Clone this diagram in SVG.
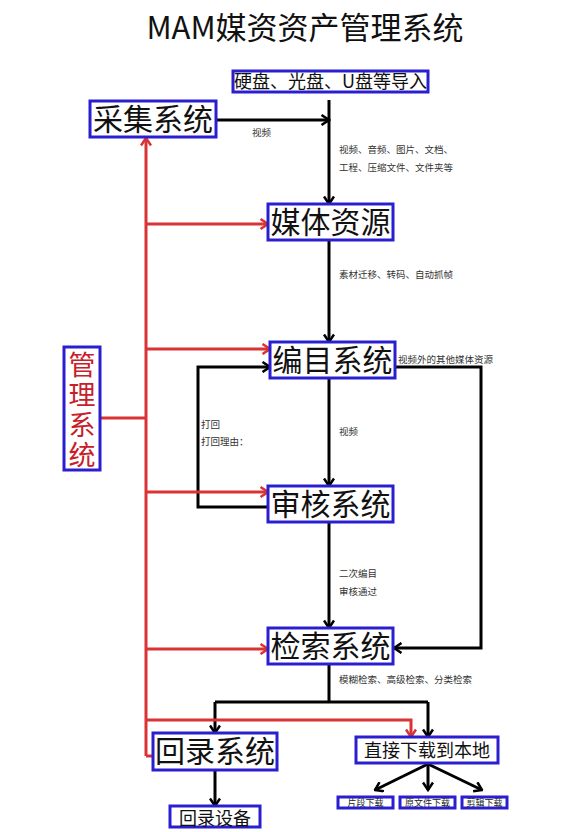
<svg xmlns="http://www.w3.org/2000/svg" width="567" height="832" viewBox="0 0 567 832">
<style>
.box{fill:#fff;stroke:#2a1fd0;stroke-width:3}
.big{font-family:"Noto Sans CJK SC","Liberation Sans",sans-serif;font-size:30px;fill:#111;text-anchor:middle}
.mid{font-family:"Noto Sans CJK SC","Liberation Sans",sans-serif;font-size:18px;fill:#111;text-anchor:middle}
.sm{font-family:"Noto Sans CJK SC","Liberation Sans",sans-serif;font-size:9.5px;fill:#333}
.tiny{font-family:"Noto Sans CJK SC","Liberation Sans",sans-serif;font-size:9px;fill:#222;text-anchor:middle}
.bl{fill:none;stroke:#000;stroke-width:3}
.rd{fill:none;stroke:#d93333;stroke-width:3}
</style>
<defs>
<marker id="ab" viewBox="0 0 12 12" refX="10.5" refY="6" markerWidth="12" markerHeight="12" orient="auto" markerUnits="userSpaceOnUse"><path d="M3,1 L10.5,6 L3,11" fill="none" stroke="#000" stroke-width="2.5"/></marker>
<marker id="ar" viewBox="0 0 12 12" refX="10.5" refY="6" markerWidth="12" markerHeight="12" orient="auto" markerUnits="userSpaceOnUse"><path d="M3,1 L10.5,6 L3,11" fill="none" stroke="#d93333" stroke-width="2.5"/></marker>
</defs>
<rect width="567" height="832" fill="#fff"/>
<text x="305" y="39" font-family="Noto Sans CJK SC,Liberation Sans,sans-serif" font-size="31" text-anchor="middle" fill="#111">MAM媒资资产管理系统</text>

<g id="connectors">
<path class="bl" d="M216,120 H329" marker-end="url(#ab)"/>
<path class="bl" d="M329,100 V204" marker-end="url(#ab)"/>
<path class="bl" d="M329,240 V342" marker-end="url(#ab)"/>
<path class="bl" d="M329,378 V486" marker-end="url(#ab)"/>
<path class="bl" d="M329,522 V628" marker-end="url(#ab)"/>
<path class="bl" d="M268,507 H198 V367 H270" marker-end="url(#ab)"/>
<path class="bl" d="M395,367 H481 V648 H394" marker-end="url(#ab)"/>
<path class="bl" d="M329,664 V702 M215,702 H428"/>
<path class="bl" d="M215,702 V733" marker-end="url(#ab)"/>
<path class="bl" d="M428,702 V737" marker-end="url(#ab)"/>
<path class="bl" d="M428,764 L375,790" marker-end="url(#ab)"/>
<path class="bl" d="M428,764 V790" marker-end="url(#ab)"/>
<path class="bl" d="M428,764 L482,790" marker-end="url(#ab)"/>
<path class="bl" d="M215,770 V806" marker-end="url(#ab)"/>
<path class="rd" d="M100,418 H146"/>
<path class="rd" d="M146,756 V138" marker-end="url(#ar)"/>
<path class="rd" d="M146,224 H268" marker-end="url(#ar)"/>
<path class="rd" d="M146,349 H270" marker-end="url(#ar)"/>
<path class="rd" d="M146,492 H268" marker-end="url(#ar)"/>
<path class="rd" d="M146,649 H268" marker-end="url(#ar)"/>
<path class="rd" d="M146,720 H411 V737" marker-end="url(#ar)"/>
<path class="rd" d="M146,756 H153"/>
</g>

<g id="labels">
<text class="sm" x="252" y="136">视频</text>
<text class="sm" x="339" y="153">视频、音频、图片、文档、</text>
<text class="sm" x="339" y="171">工程、压缩文件、文件夹等</text>
<text class="sm" x="339" y="278">素材迁移、转码、自动抓帧</text>
<text class="sm" x="398" y="363">视频外的其他媒体资源</text>
<text class="sm" x="201" y="428">打回</text>
<text class="sm" x="201" y="445">打回理由：</text>
<text class="sm" x="339" y="435">视频</text>
<text class="sm" x="339" y="577">二次编目</text>
<text class="sm" x="339" y="595">审核通过</text>
<text class="sm" x="339" y="683">模糊检索、高级检索、分类检索</text>
</g>

<g id="n-import"><rect class="box" x="233" y="71" width="195" height="21"/><text class="mid" x="330.5" y="88">硬盘、光盘、U盘等导入</text></g>
<g id="n-caiji"><rect class="box" x="90" y="101" width="126" height="36"/><text class="big" x="153" y="130">采集系统</text></g>
<g id="n-meiti"><rect class="box" x="268" y="204" width="125" height="36"/><text class="big" x="330.5" y="233">媒体资源</text></g>
<g id="n-bianmu"><rect class="box" x="270" y="342" width="125" height="36"/><text class="big" x="332.5" y="371">编目系统</text></g>
<g id="n-shenhe"><rect class="box" x="268" y="486" width="125" height="36"/><text class="big" x="330.5" y="515">审核系统</text></g>
<g id="n-jiansuo"><rect class="box" x="268" y="628" width="125" height="36"/><text class="big" x="330.5" y="657">检索系统</text></g>
<g id="n-guanli"><rect class="box" x="64" y="347" width="36" height="123"/>
<text x="82" y="351" writing-mode="vertical-rl" letter-spacing="3" font-family="Noto Sans CJK SC,Liberation Sans,sans-serif" font-size="27" fill="#c8202a">管理系统</text></g>
<g id="n-huilu"><rect class="box" x="153" y="733" width="124" height="37"/><text class="big" x="215" y="762">回录系统</text></g>
<g id="n-xiazai"><rect class="box" x="356" y="737" width="142" height="26"/><text class="mid" x="427" y="757">直接下载到本地</text></g>
<g id="n-shebei"><rect class="box" x="170" y="806" width="90" height="21"/><text class="mid" x="215" y="825">回录设备</text></g>
<g id="n-pianduan"><rect class="box" x="338" y="797" width="55" height="11"/><text class="tiny" x="365.5" y="806">片段下载</text></g>
<g id="n-yuanwenjian"><rect class="box" x="400" y="797" width="55" height="11"/><text class="tiny" x="427.5" y="806">原文件下载</text></g>
<g id="n-jianji"><rect class="box" x="462" y="797" width="45" height="11"/><text class="tiny" x="484.5" y="806">剪辑下载</text></g>
</svg>
